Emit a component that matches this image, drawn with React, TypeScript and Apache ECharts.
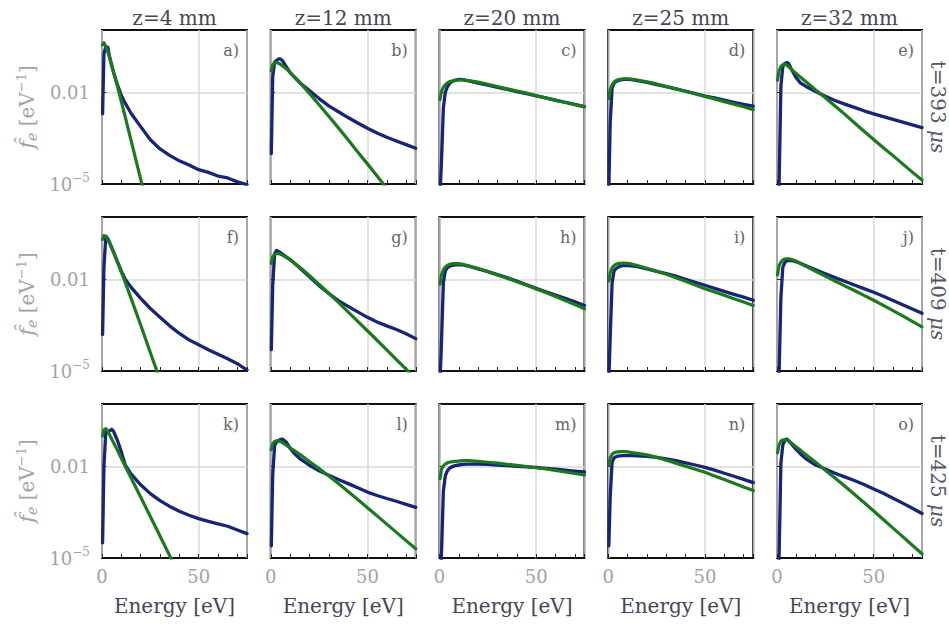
import React, { useEffect, useRef } from 'react';
import * as echarts from 'echarts';

// Energy grid [eV]
const ENERGY = [0.3, 1, 2, 3, 4, 5, 6, 8, 10, 12, 15, 20, 25, 30, 35, 40, 45, 50, 55, 60, 65, 70, 75];

// f_e [1/eV] — blue: measured, green: Maxwellian fit. Row t=393 us
const blueA = [2.0e-3, 1.91e-1, 3.16e-1, 3.02e-1, 1.41e-1, 7.94e-2, 4.47e-2, 1.78e-2, 7.94e-3, 4.47e-3, 2.09e-3, 7.59e-4, 2.82e-4, 1.41e-4, 8.71e-5, 5.75e-5, 4.17e-5, 2.95e-5, 2.40e-5, 1.82e-5, 1.58e-5, 1.175e-5, 9.55e-6];
const greenA = [3.63e-1, 4.27e-1, 3.24e-1, 2.14e-1, 1.32e-1, 7.94e-2, 4.68e-2, 1.58e-2, 5.01e-3, 1.58e-3, 2.75e-4, 1.45e-5, 7.24e-7, null, null, null, null, null, null, null, null, null, null];
const blueB = [1.0e-4, 3.16e-2, 1.0e-1, 1.12e-1, 1.26e-1, 1.26e-1, 1.12e-1, 7.08e-2, 4.47e-2, 3.31e-2, 2.09e-2, 1.15e-2, 6.31e-3, 3.63e-3, 2.34e-3, 1.51e-3, 1.0e-3, 6.76e-4, 4.68e-4, 3.39e-4, 2.57e-4, 1.95e-4, 1.48e-4];
const greenB = [5.13e-2, 8.13e-2, 9.55e-2, 9.55e-2, 9.12e-2, 8.51e-2, 7.59e-2, 6.03e-2, 4.57e-2, 3.39e-2, 2.14e-2, 9.33e-3, 3.98e-3, 1.66e-3, 6.92e-4, 2.82e-4, 1.12e-4, 4.57e-5, 1.82e-5, 7.24e-6, 2.88e-6, null, null];
const blueC = [5.01e-6, 5.01e-5, 3.16e-3, 1.0e-2, 1.51e-2, 1.91e-2, 2.19e-2, 2.51e-2, 2.69e-2, 2.63e-2, 2.40e-2, 2.04e-2, 1.74e-2, 1.48e-2, 1.26e-2, 1.07e-2, 9.12e-3, 7.76e-3, 6.61e-3, 5.62e-3, 4.79e-3, 4.07e-3, 3.47e-3];
const greenC = [5.89e-3, 1.07e-2, 1.48e-2, 1.78e-2, 2.04e-2, 2.24e-2, 2.34e-2, 2.51e-2, 2.57e-2, 2.57e-2, 2.45e-2, 2.19e-2, 1.86e-2, 1.58e-2, 1.32e-2, 1.12e-2, 9.55e-3, 7.94e-3, 6.61e-3, 5.50e-3, 4.68e-3, 3.98e-3, 3.39e-3];
const blueD = [6.31e-6, 1.0e-3, 1.41e-2, 2.0e-2, 2.29e-2, 2.45e-2, 2.57e-2, 2.69e-2, 2.69e-2, 2.63e-2, 2.45e-2, 2.14e-2, 1.82e-2, 1.55e-2, 1.32e-2, 1.10e-2, 9.12e-3, 7.59e-3, 6.61e-3, 5.62e-3, 4.79e-3, 4.07e-3, 3.55e-3];
const greenD = [6.31e-3, 1.26e-2, 1.78e-2, 2.19e-2, 2.45e-2, 2.63e-2, 2.69e-2, 2.82e-2, 2.82e-2, 2.75e-2, 2.57e-2, 2.24e-2, 1.91e-2, 1.58e-2, 1.32e-2, 1.10e-2, 9.12e-3, 7.41e-3, 6.17e-3, 5.01e-3, 4.17e-3, 3.39e-3, 2.75e-3];
const blueE = [null, 5.01e-6, 1.58e-2, 7.08e-2, 8.91e-2, 9.55e-2, 8.91e-2, 5.01e-2, 3.02e-2, 2.09e-2, 1.58e-2, 1.07e-2, 7.59e-3, 5.50e-3, 4.17e-3, 3.24e-3, 2.51e-3, 2.0e-3, 1.62e-3, 1.32e-3, 1.07e-3, 8.71e-4, 7.08e-4];
const greenE = [2.51e-2, 5.01e-2, 7.08e-2, 8.13e-2, 8.51e-2, 7.94e-2, 6.92e-2, 5.37e-2, 4.17e-2, 3.24e-2, 2.24e-2, 1.20e-2, 6.76e-3, 3.63e-3, 1.95e-3, 1.02e-3, 5.37e-4, 2.88e-4, 1.55e-4, 8.51e-5, 4.57e-5, 2.45e-5, 1.35e-5];

// Row t=409 us
const blueF = [1.58e-4, 2.51e-2, 2.63e-1, 2.19e-1, 1.58e-1, 1.12e-1, 7.94e-2, 3.80e-2, 1.91e-2, 1.02e-2, 5.62e-3, 2.40e-3, 1.12e-3, 5.75e-4, 3.02e-4, 1.70e-4, 1.05e-4, 7.24e-5, 5.01e-5, 3.55e-5, 2.51e-5, 1.74e-5, 1.07e-5];
const greenF = [2.04e-1, 2.75e-1, 2.57e-1, 2.0e-1, 1.51e-1, 1.10e-1, 7.76e-2, 3.72e-2, 1.74e-2, 8.13e-3, 2.45e-3, 3.24e-4, 4.07e-5, 5.13e-6, null, null, null, null, null, null, null, null, null];
const blueG = [5.01e-5, 6.31e-3, 7.08e-2, 8.91e-2, 8.32e-2, 7.59e-2, 6.76e-2, 5.50e-2, 4.47e-2, 3.55e-2, 2.40e-2, 1.23e-2, 6.31e-3, 3.47e-3, 2.04e-3, 1.32e-3, 8.71e-4, 5.75e-4, 4.07e-4, 3.02e-4, 2.29e-4, 1.66e-4, 1.15e-4];
const greenG = [3.39e-2, 5.62e-2, 6.76e-2, 7.08e-2, 7.08e-2, 6.76e-2, 6.31e-2, 5.37e-2, 4.47e-2, 3.55e-2, 2.51e-2, 1.35e-2, 6.92e-3, 3.55e-3, 1.78e-3, 8.71e-4, 4.27e-4, 2.09e-4, 1.02e-4, 4.90e-5, 2.34e-5, 1.15e-5, 5.50e-6];
const blueH = [5.01e-6, 7.94e-5, 7.94e-3, 1.91e-2, 2.40e-2, 2.69e-2, 2.82e-2, 3.02e-2, 3.09e-2, 3.02e-2, 2.75e-2, 2.24e-2, 1.82e-2, 1.45e-2, 1.15e-2, 8.91e-3, 6.76e-3, 5.13e-3, 3.98e-3, 3.09e-3, 2.40e-3, 1.86e-3, 1.41e-3];
const greenH = [7.08e-3, 1.41e-2, 2.09e-2, 2.57e-2, 2.88e-2, 3.09e-2, 3.24e-2, 3.31e-2, 3.31e-2, 3.16e-2, 2.82e-2, 2.29e-2, 1.82e-2, 1.41e-2, 1.10e-2, 8.51e-3, 6.46e-3, 4.90e-3, 3.72e-3, 2.75e-3, 2.04e-3, 1.51e-3, 1.10e-3];
const blueI = [5.01e-6, 1.26e-4, 7.94e-3, 1.91e-2, 2.29e-2, 2.51e-2, 2.69e-2, 2.88e-2, 2.88e-2, 2.82e-2, 2.63e-2, 2.24e-2, 1.86e-2, 1.55e-2, 1.29e-2, 1.02e-2, 8.13e-3, 6.46e-3, 5.13e-3, 4.07e-3, 3.24e-3, 2.63e-3, 2.09e-3];
const greenI = [8.91e-3, 1.66e-2, 2.40e-2, 2.88e-2, 3.16e-2, 3.31e-2, 3.39e-2, 3.47e-2, 3.39e-2, 3.24e-2, 2.88e-2, 2.34e-2, 1.86e-2, 1.48e-2, 1.15e-2, 8.71e-3, 6.61e-3, 5.01e-3, 3.89e-3, 3.02e-3, 2.34e-3, 1.82e-3, 1.41e-3];
const blueJ = [null, 5.01e-6, 2.51e-3, 2.51e-2, 3.55e-2, 4.07e-2, 4.27e-2, 4.17e-2, 3.80e-2, 3.39e-2, 2.82e-2, 2.09e-2, 1.55e-2, 1.15e-2, 8.71e-3, 6.61e-3, 5.01e-3, 3.80e-3, 2.82e-3, 2.04e-3, 1.48e-3, 1.07e-3, 7.76e-4];
const greenJ = [1.41e-2, 2.75e-2, 3.72e-2, 4.37e-2, 4.68e-2, 4.79e-2, 4.79e-2, 4.47e-2, 3.98e-2, 3.39e-2, 2.69e-2, 1.86e-2, 1.29e-2, 8.91e-3, 6.17e-3, 4.37e-3, 3.02e-3, 2.09e-3, 1.41e-3, 9.55e-4, 6.46e-4, 4.27e-4, 2.82e-4];

// Row t=425 us
const blueK = [3.16e-5, 1.0e-2, 1.51e-1, 1.38e-1, 1.51e-1, 1.66e-1, 1.41e-1, 7.08e-2, 3.02e-2, 1.12e-2, 5.75e-3, 2.51e-3, 1.29e-3, 7.59e-4, 4.90e-4, 3.39e-4, 2.51e-4, 1.95e-4, 1.58e-4, 1.32e-4, 1.10e-4, 8.32e-5, 6.31e-5];
const greenK = [1.0e-1, 1.58e-1, 1.74e-1, 1.41e-1, 1.07e-1, 7.94e-2, 6.03e-2, 3.39e-2, 1.86e-2, 1.02e-2, 4.27e-3, 1.0e-3, 2.29e-4, 5.25e-5, 1.20e-5, 2.75e-6, null, null, null, null, null, null, null];
const blueL = [2.51e-5, 5.01e-3, 5.01e-2, 6.31e-2, 7.08e-2, 7.76e-2, 7.94e-2, 6.31e-2, 3.98e-2, 2.75e-2, 1.82e-2, 1.10e-2, 7.24e-3, 5.13e-3, 3.72e-3, 2.75e-3, 2.0e-3, 1.45e-3, 1.12e-3, 8.91e-4, 7.24e-4, 5.75e-4, 4.57e-4];
const greenL = [3.55e-2, 5.50e-2, 6.61e-2, 6.92e-2, 6.92e-2, 6.61e-2, 6.03e-2, 5.01e-2, 4.07e-2, 3.39e-2, 2.51e-2, 1.45e-2, 8.51e-3, 4.90e-3, 2.75e-3, 1.51e-3, 8.32e-4, 4.47e-4, 2.40e-4, 1.29e-4, 6.92e-5, 3.72e-5, 2.0e-5];
const blueM = [1.0e-6, 1.26e-5, 1.58e-3, 5.01e-3, 7.08e-3, 8.51e-3, 9.55e-3, 1.07e-2, 1.12e-2, 1.175e-2, 1.20e-2, 1.20e-2, 1.175e-2, 1.12e-2, 1.07e-2, 1.02e-2, 9.77e-3, 9.33e-3, 8.71e-3, 8.13e-3, 7.59e-3, 7.08e-3, 6.61e-3];
const greenM = [3.98e-3, 7.94e-3, 1.05e-2, 1.20e-2, 1.32e-2, 1.38e-2, 1.41e-2, 1.48e-2, 1.51e-2, 1.55e-2, 1.55e-2, 1.48e-2, 1.38e-2, 1.29e-2, 1.175e-2, 1.10e-2, 1.0e-2, 9.12e-3, 8.32e-3, 7.41e-3, 6.61e-3, 5.89e-3, 5.25e-3];
const blueN = [2.51e-5, 1.0e-3, 1.41e-2, 1.91e-2, 2.09e-2, 2.19e-2, 2.24e-2, 2.29e-2, 2.29e-2, 2.29e-2, 2.24e-2, 2.14e-2, 2.0e-2, 1.78e-2, 1.55e-2, 1.32e-2, 1.12e-2, 9.33e-3, 7.59e-3, 6.03e-3, 4.79e-3, 3.80e-3, 2.95e-3];
const greenN = [1.12e-2, 1.91e-2, 2.51e-2, 2.82e-2, 2.95e-2, 3.02e-2, 3.09e-2, 3.09e-2, 3.02e-2, 2.88e-2, 2.69e-2, 2.40e-2, 2.0e-2, 1.62e-2, 1.29e-2, 1.02e-2, 8.13e-3, 6.46e-3, 4.90e-3, 3.72e-3, 2.82e-3, 2.14e-3, 1.62e-3];
const blueO = [null, 6.31e-6, 1.26e-2, 5.01e-2, 7.08e-2, 7.94e-2, 7.08e-2, 5.01e-2, 3.55e-2, 2.63e-2, 1.78e-2, 1.12e-2, 8.32e-3, 6.03e-3, 4.57e-3, 3.47e-3, 2.57e-3, 1.82e-3, 1.32e-3, 9.12e-4, 6.31e-4, 4.27e-4, 2.88e-4];
const greenO = [2.82e-2, 5.01e-2, 6.76e-2, 7.41e-2, 7.59e-2, 7.41e-2, 6.76e-2, 5.50e-2, 4.37e-2, 3.47e-2, 2.45e-2, 1.38e-2, 7.59e-3, 4.17e-3, 2.29e-3, 1.23e-3, 6.61e-4, 3.47e-4, 1.82e-4, 9.55e-5, 5.01e-5, 2.63e-5, 1.38e-5];

const COLUMN_TITLES = ['z=4 mm', 'z=12 mm', 'z=20 mm', 'z=25 mm', 'z=32 mm'];
const ROW_TIMES = ['393', '409', '425'];
const PANEL_LETTERS = ['a)', 'b)', 'c)', 'd)', 'e)', 'f)', 'g)', 'h)', 'i)', 'j)', 'k)', 'l)', 'm)', 'n)', 'o)'];
const X_TICK_LABELS = [0, 50];
const Y_TICK_LABELS = [1e-5, 0.01];
const X_MAX = 75;
const Y_MIN = 1e-5;
const Y_MAX = 1.12;

const PANELS: (number | null)[][][] = [
  [blueA, greenA], [blueB, greenB], [blueC, greenC], [blueD, greenD], [blueE, greenE],
  [blueF, greenF], [blueG, greenG], [blueH, greenH], [blueI, greenI], [blueJ, greenJ],
  [blueK, greenK], [blueL, greenL], [blueM, greenM], [blueN, greenN], [blueO, greenO],
];

const FONT = 'DejaVu Serif';
const BLUE = '#16247a';
const GREEN = '#1b7a1b';
const GRID_GRAY = '#d9d9d9';
const TICK_GRAY = '#a3a3a3';
const DARK_TEXT = '#464659';

const LEFT0 = 102;
const COL_STEP = 168.75;
const PW = 145;
const TOPS = [30, 217, 404];
const PH = 154;

function near(v: number, t: number) {
  return Math.abs(Math.log10(v) - Math.log10(t)) < 0.01;
}

function toData(vals: (number | null)[]) {
  const out: number[][] = [];
  ENERGY.forEach((e, i) => {
    const v = vals[i];
    if (v != null) out.push([e, v]);
  });
  return out;
}

function buildOption() {
  const grids: any[] = [];
  const xAxes: any[] = [];
  const yAxes: any[] = [];
  const series: any[] = [];
  const graphics: any[] = [];

  PANELS.forEach((pair, k) => {
    const r = Math.floor(k / 5);
    const c = k % 5;
    const left = LEFT0 + c * COL_STEP;
    const top = TOPS[r];
    grids.push({
      left, top, width: PW, height: PH, show: true,
      borderColor: '#111', borderWidth: 2, backgroundColor: 'transparent',
    });
    xAxes.push({
      type: 'value', gridIndex: k, min: 0, max: X_MAX, interval: 50, position: 'bottom',
      axisLine: { show: false }, axisTick: { show: false },
      splitLine: { show: true, lineStyle: { color: GRID_GRAY, width: 1.5 } },
      axisLabel: {
        show: r === 2, margin: 9, fontSize: 18, fontFamily: FONT, color: TICK_GRAY,
        formatter: (v: number) => (X_TICK_LABELS.includes(v) ? String(v) : ''),
      },
    });
    xAxes.push({
      type: 'value', gridIndex: k, min: 0, max: X_MAX, interval: 10, position: 'bottom',
      axisLine: { show: false },
      axisTick: { show: true, inside: true, length: 4, lineStyle: { color: '#222', width: 1 } },
      axisLabel: { show: false }, splitLine: { show: false },
    });
    yAxes.push({
      type: 'log', logBase: 10, gridIndex: k, min: Y_MIN, max: Y_MAX,
      axisLine: { show: false }, axisTick: { show: false }, splitLine: { show: false },
      axisLabel: {
        show: c === 0, margin: 12, fontSize: 18, fontFamily: FONT, color: TICK_GRAY,
        formatter: (v: number) => (near(v, Y_TICK_LABELS[1]) ? '0.01' : near(v, Y_TICK_LABELS[0]) ? '{b|10}{s|−5}' : ''),
        rich: {
          b: { fontSize: 18, fontFamily: FONT, color: TICK_GRAY },
          s: { fontSize: 12, fontFamily: FONT, color: TICK_GRAY, padding: [0, 0, 12, 0] },
        },
      },
    });
    series.push({
      type: 'line', xAxisIndex: 2 * k, yAxisIndex: k, data: toData(pair[0]),
      showSymbol: false, symbol: 'none', silent: true, clip: true, z: 3,
      lineStyle: { color: BLUE, width: 3.3, join: 'round', cap: 'round' },
      markLine: {
        silent: true, symbol: 'none', z: 1, animation: false,
        label: { show: false },
        lineStyle: { color: GRID_GRAY, width: 1.5, type: 'solid' },
        data: [
          { yAxis: Y_TICK_LABELS[1] },
          [
            { coord: [0, Y_TICK_LABELS[1]], lineStyle: { color: '#222', width: 1, type: 'solid' } },
            { coord: [2.2, Y_TICK_LABELS[1]] },
          ],
        ],
      },
    });
    series.push({
      type: 'line', xAxisIndex: 2 * k, yAxisIndex: k, data: toData(pair[1]),
      showSymbol: false, symbol: 'none', silent: true, clip: true, z: 4,
      lineStyle: { color: GREEN, width: 3.2, join: 'round', cap: 'round' },
    });

    // panel letter
    graphics.push({
      type: 'text', x: left + PW - 8, y: top + 20, silent: true,
      style: {
        text: PANEL_LETTERS[k], fontSize: 16, fontFamily: FONT, fill: '#666',
        align: 'right', textAlign: 'right', verticalAlign: 'middle', textVerticalAlign: 'middle',
      },
    });
    if (r === 2) {
      graphics.push({
        type: 'text', x: left + PW / 2, y: 606, silent: true,
        style: {
          text: 'Energy [eV]', fontSize: 20, fontFamily: FONT, fill: DARK_TEXT,
          align: 'center', textAlign: 'center', verticalAlign: 'middle', textVerticalAlign: 'middle',
        },
      });
    }
  });

  COLUMN_TITLES.forEach((t, c) => {
    graphics.push({
      type: 'text', x: LEFT0 + c * COL_STEP + PW / 2, y: 18, silent: true,
      style: {
        text: t, fontSize: 20, fontFamily: FONT, fill: DARK_TEXT,
        align: 'center', textAlign: 'center', verticalAlign: 'middle', textVerticalAlign: 'middle',
      },
    });
  });

  ROW_TIMES.forEach((t, r) => {
    const cy = TOPS[r] + PH / 2;
    graphics.push({
      type: 'text', x: 938, y: cy, rotation: -Math.PI / 2, silent: true,
      style: {
        text: `{n|t=${t} }{m|μs}`, fontSize: 20, fontFamily: FONT, fill: '#55556a',
        align: 'center', textAlign: 'center', verticalAlign: 'middle', textVerticalAlign: 'middle',
        rich: {
          n: { fontSize: 20, fontFamily: FONT, fill: '#55556a', color: '#55556a' },
          m: { fontSize: 20, fontFamily: FONT, fontStyle: 'italic', fill: '#55556a', color: '#55556a' },
        },
      },
    });
    graphics.push({
      type: 'text', x: 27, y: cy, rotation: Math.PI / 2, silent: true,
      style: {
        text: '{f|f̂}{e|e}{n| [eV}{s|−1}{n|]}', fontSize: 20, fontFamily: FONT, fill: TICK_GRAY,
        align: 'center', textAlign: 'center', verticalAlign: 'middle', textVerticalAlign: 'middle',
        rich: {
          f: { fontSize: 21, fontFamily: FONT, fontStyle: 'italic', fill: TICK_GRAY, color: TICK_GRAY },
          e: { fontSize: 14, fontFamily: FONT, fontStyle: 'italic', fill: TICK_GRAY, color: TICK_GRAY, padding: [10, 0, 0, 0] },
          n: { fontSize: 20, fontFamily: FONT, fill: TICK_GRAY, color: TICK_GRAY },
          s: { fontSize: 13, fontFamily: FONT, fill: TICK_GRAY, color: TICK_GRAY, padding: [0, 0, 12, 0] },
        },
      },
    });
  });

  return {
    animation: false,
    backgroundColor: '#ffffff',
    grid: grids,
    xAxis: xAxes,
    yAxis: yAxes,
    series,
    graphic: { elements: graphics },
  };
}

export default function App() {
  const ref = useRef<HTMLDivElement>(null);
  useEffect(() => {
    if (!ref.current) return;
    const chart = echarts.init(ref.current, null, { renderer: 'svg' });
    chart.setOption(buildOption() as any);
    return () => chart.dispose();
  }, []);
  return (
    <div
      ref={ref}
      style={{ position: 'fixed', left: 0, top: 0, width: 949, height: 625, background: '#fff' }}
    />
  );
}
